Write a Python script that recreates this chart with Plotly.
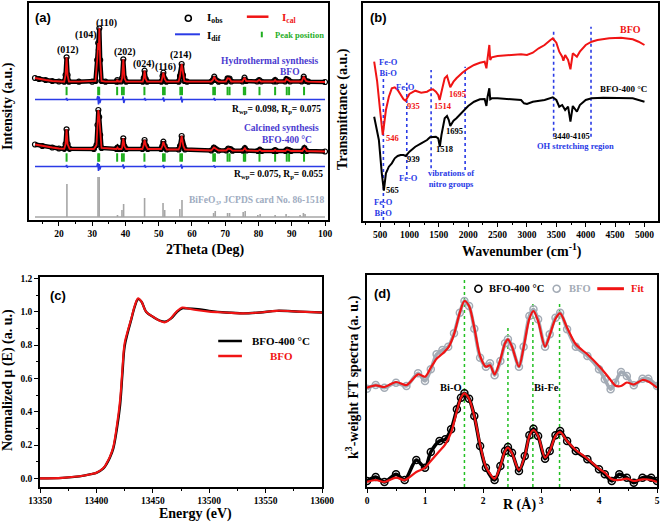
import plotly.graph_objects as go

# ---------------- (a) XRD Rietveld ----------------
TOP_2THETA = [12.8, 14, 16, 18, 20,
              21.6, 22.0, 22.3, 22.6, 23.0,
              26, 30, 31.0, 31.5, 31.8,
              32.0, 32.15, 32.4, 32.8, 34,
              37.3, 37.55, 37.8, 38.7, 39.0,
              39.35, 39.7, 40.2, 45.2, 45.5,
              45.75, 46.1, 46.5, 50.8, 51.15,
              51.4, 51.8, 52.3, 56.0, 56.4,
              56.9, 57.3, 57.7, 58.5, 65.8,
              66.3, 66.7, 67.2, 68.0, 70.2,
              70.7, 71.3, 71.8, 75.2, 75.8,
              76.3, 79.6, 80.2, 80.8, 84.6,
              85.0, 85.4, 88.0, 88.4, 89.0,
              89.5, 93.0, 93.6, 94.3, 95,
              100]
TOP_INT = [142, 141, 140, 139, 138.5,
           138.3, 145, 162.7, 145, 138.3,
           138.3, 138.3, 139, 160, 177,
           170, 191.7, 160, 139, 138.3,
           138.3, 140, 138.5, 138.5, 142,
           160.7, 142, 138.3, 138.3, 142,
           149.3, 141, 138.3, 138.3, 144,
           147.3, 141, 138.3, 138.3, 144,
           156, 145, 139, 138.3, 138.3,
           140, 143.3, 140, 138.3, 138.3,
           141.7, 141.5, 138.5, 138.5, 142.3,
           139, 138.5, 140, 138.5, 138.5,
           140, 138.5, 138.5, 141, 140,
           138.5, 138.5, 143.3, 139, 138.3,
           138]

BOT_2THETA = [12.8, 15, 18, 20, 21.6,
              22.0, 22.3, 22.6, 23.2, 30.5,
              31.3, 31.6, 31.85, 32.1, 32.4,
              32.8, 37.3, 37.6, 37.9, 38.8,
              39.0, 39.35, 39.7, 40.2, 45.1,
              45.5, 45.75, 46.2, 46.7, 50.7,
              51.1, 51.4, 51.8, 52.4, 56.0,
              56.4, 56.9, 57.4, 57.9, 65.8,
              66.6, 67.2, 68.0, 70.3, 70.9,
              71.6, 72.2, 75.3, 75.9, 76.4,
              79.8, 80.4, 81.0, 84.6, 85.0,
              85.4, 88.1, 88.6, 89.2, 89.8,
              93.2, 93.8, 94.5, 100]
BOT_INT = [75.5, 74, 72.5, 71.5, 71.2,
           76, 90.7, 76, 71.2, 71,
           75, 95, 110, 103, 85,
           72, 71, 72.5, 71, 71,
           72.5, 81.7, 73.5, 71, 71,
           75, 80, 74, 71, 71,
           74, 78.3, 74, 70.5, 70.5,
           74, 84, 74, 70.5, 69.5,
           72.5, 71, 69.5, 69.5, 71.5,
           71, 69.3, 69.3, 71.8, 69.5,
           69, 70.3, 69, 69, 70,
           69, 69, 70.5, 69.8, 69,
           69, 72, 69, 68.5]

DIF_2THETA = [12.8, 22.1, 22.3, 22.5, 22.7, 31.4, 31.7, 31.9, 32.1, 32.3, 32.6,
              39.1, 39.3, 39.5, 39.8, 45.6, 45.8, 46.0, 46.2, 51.2, 51.4, 51.6,
              51.8, 56.6, 56.8, 57.0, 57.2, 66.5, 66.7, 66.9, 67.1, 100]
TOP_DIF = [120.5, 120.5, 122, 119.5, 120.5, 120.5, 124, 115.5, 123.5, 117, 120.5,
           120.5, 123.5, 117, 120.5, 120.5, 122, 119.5, 120.5, 120.5, 122.5, 118.5,
           120.5, 120.5, 123.5, 117.5, 120.5, 120.5, 122, 119.5, 120.5, 120.5]
BOT_DIF = [53.5, 53.5, 55, 52.5, 53.5, 53.5, 57, 49, 56, 50.5, 53.5,
           53.5, 55.5, 51.5, 53.5, 53.5, 55, 52.5, 53.5, 53.5, 55, 52,
           53.5, 53.5, 55.5, 51.5, 53.5, 53.5, 54.5, 52.5, 53.5, 53.5]

PEAK_POS = [22.3, 31.8, 32.1, 37.5, 38.95, 39.5, 45.7, 51.3, 51.8, 56.5, 57.0,
            66.4, 66.9, 70.7, 71.3, 75.6, 76.0, 80.3, 85.0, 88.5, 89.2, 93.7]
TOP_TICK_LEVEL = 129
BOT_TICK_LEVEL = 62.5

REF_POS = [22.4, 31.75, 32.1, 37.6, 38.95, 39.45, 45.75, 51.3, 51.8, 56.35, 57.0,
           66.5, 67.0, 70.7, 71.3, 75.4, 76.0, 79.8, 80.5, 85.0, 88.3, 89.1,
           92.5, 93.5, 94.0]
REF_INT = [36, 43, 43, 5, 10, 16, 22, 17, 10, 11, 20,
           7, 9, 7, 7, 8, 9, 5, 6, 5, 6, 4,
           5, 7, 6]
REF_BASE = 3

# ---------------- (b) FTIR ----------------
WN_BFO = [400, 450, 500, 546, 600, 650, 700, 750, 800, 850, 900, 935, 1000, 1100,
          1200, 1300, 1350, 1400, 1450, 1490, 1514, 1540, 1600, 1640, 1670, 1695,
          1750, 1800, 1900, 2000, 2100, 2200, 2280, 2310, 2330, 2345, 2360, 2375,
          2400, 2500, 2700, 2900, 3000, 3100, 3200, 3300, 3400, 3440, 3500, 3550,
          3600, 3620, 3650, 3700, 3740, 3780, 3850, 3900, 4000, 4100, 4200, 4400,
          4600, 4700, 4800, 4900, 5000]
T_BFO = [159.3, 140, 111, 86, 111, 124.3, 132.7, 133.7, 131, 126, 121.7, 120.3, 127, 130.3,
         128.3, 129.3, 131, 131.7, 129.3, 126, 121, 127.7, 142.7, 145, 139.3, 133.7,
         139.3, 142.7, 148.3, 152.7, 156, 158.3, 159.3, 152.7, 162.7, 171, 176, 161,
         163.7, 165, 166, 166.7, 166, 168.3, 172.7, 176, 181, 182.7, 178.3, 169.3,
         164.3, 160.3, 166, 161, 151.7, 167.7, 164.3, 169.3, 176, 179.3, 181, 182.7,
         183.3, 182.3, 181.7, 179.3, 176]

WN_400 = [400, 480, 530, 565, 600, 650, 700, 750, 800, 850, 900, 939, 1000, 1100,
          1200, 1300, 1350, 1400, 1450, 1490, 1518, 1545, 1600, 1640, 1670, 1695,
          1750, 1800, 1900, 2000, 2100, 2200, 2280, 2310, 2330, 2345, 2360, 2375,
          2400, 2500, 2700, 2900, 2950, 3000, 3100, 3200, 3300, 3440, 3500, 3550,
          3600, 3650, 3700, 3740, 3780, 3850, 3900, 4000, 4100, 4300, 4600, 4800, 5000]
T_400 = [104.3, 81, 47.7, 30.3, 47.7, 54.3, 57.7, 62.7, 65, 66, 66, 65, 69.3, 74.3,
         77.7, 81, 83.7, 83.7, 84.3, 82.7, 74.3, 86, 102.7, 105, 101, 95,
         100.3, 102.7, 109.3, 115, 119.3, 121.7, 122, 115, 124.3, 127.7, 132.7, 121.7,
         122.7, 122.7, 122, 121, 117.7, 117, 119.3, 120, 121, 123.7, 121, 114.3,
         116, 111, 114.3, 99.3, 115, 109.3, 116, 121, 122.7, 123.3, 123.3, 122.7, 119.3]

FTIR_GUIDE_WN = [557, 955, 1369, 1948, 3454, 4090]
FTIR_GUIDE_LO = [1, 46, 52.7, 51, 84.3, 84.3]
FTIR_GUIDE_HI = [142.7, 138.3, 151, 154.3, 191, 194.3]

# ---------------- (c) XANES ----------------
E_EV = [13350, 13370, 13385, 13395, 13400, 13406, 13409, 13412, 13415, 13418, 13421,
        13423, 13425, 13428, 13431, 13434, 13437, 13440, 13444, 13450, 13456, 13461,
        13466, 13471, 13476, 13480, 13490, 13500, 13515, 13530, 13545, 13560, 13580, 13600]
MU_400 = [0.0, 0.003, 0.012, 0.025, 0.033, 0.058, 0.086, 0.125, 0.18, 0.29, 0.44,
          0.62, 0.79, 0.88, 0.955, 1.03, 1.075, 1.06, 1.0, 0.97, 0.947, 0.94,
          0.958, 0.995, 1.02, 1.02, 1.015, 1.005, 0.995, 0.99, 0.995, 1.005, 1.0, 0.995]
MU_BFO = [0.0, 0.003, 0.012, 0.025, 0.034, 0.06, 0.09, 0.13, 0.19, 0.31, 0.47,
          0.65, 0.81, 0.89, 0.96, 1.036, 1.08, 1.06, 1.0, 0.97, 0.945, 0.936,
          0.96, 1.0, 1.025, 1.02, 1.008, 1.0, 0.995, 0.99, 0.995, 1.005, 1.0, 0.995]

# ---------------- (d) EXAFS FT ----------------
R_UP = [0, 0.15, 0.3, 0.5, 0.68, 0.88, 1.0, 1.1, 1.2, 1.3, 1.4, 1.5, 1.6, 1.68, 1.76,
        1.85, 1.95, 2.05, 2.12, 2.2, 2.3, 2.38, 2.43, 2.5, 2.62, 2.7, 2.8, 2.87, 2.95,
        3.07, 3.15, 3.25, 3.33, 3.45, 3.6, 3.8, 4.0, 4.1, 4.2, 4.28, 4.38, 4.48, 4.6,
        4.75, 4.85, 5.0]
FT_BFO = [98.3, 102, 99.3, 104.3, 101, 113.7, 106, 117.7, 132.7, 137, 140.3, 153.7, 174.3,
          186, 181, 158.3, 129.3, 120.3, 123.7, 111.7, 126, 143.7, 147.7, 140.3, 120.3,
          140.3, 171, 177.7, 167.7, 140.3, 152.7, 169.3, 174.3, 157.7, 140.3, 131, 117.7,
          107.7, 97.7, 104.3, 115, 111, 101.7, 108.3, 108.3, 101]
FIT_BFO = [99.3, 101.7, 100, 105, 102, 112.7, 110.3, 119.3, 128.3, 133.3, 139.3, 152.7, 174.3,
           186, 181, 159.3, 131, 120.3, 121.7, 112.7, 127.7, 143.7, 147.7, 140.3, 120.3,
           139.3, 168.3, 176, 166, 140.3, 151.7, 168.3, 173.7, 159.3, 142.7, 132.7, 121,
           114.3, 107, 101.5, 101, 104.5, 102.5, 107, 105.5, 99.3]
R_LOW = [0, 0.15, 0.3, 0.5, 0.65, 0.85, 1.0, 1.1, 1.25, 1.35, 1.45, 1.55, 1.62, 1.68, 1.76,
         1.85, 1.95, 2.05, 2.2, 2.3, 2.38, 2.43, 2.5, 2.62, 2.72, 2.8, 2.87, 2.95, 3.07,
         3.15, 3.25, 3.33, 3.45, 3.6, 3.8, 4.0, 4.1, 4.22, 4.35, 4.48, 4.6, 4.75, 4.9, 5.0]
FT_400 = [6, 10, 5, 12.7, 7, 27, 19.3, 35, 46, 47.7, 57.7, 77.7, 89.3, 93.7, 88.3,
          71, 41, 19.3, 7, 21, 36, 40, 34.3, 16, 31, 51.7, 58.3, 51, 28.3,
          36, 51.7, 56, 46, 36, 27.7, 17.7, 12.7, 6, 12.7, 9.3, 4.3, 9.3, 9.3, 6]
FIT_400 = [5, 7, 5, 9.3, 7, 15, 19.3, 26, 36, 42.7, 54.3, 76, 89.3, 93.7, 88.3,
           71, 42.7, 20.3, 8.3, 21, 36, 39.3, 33.7, 17, 31, 51, 57, 51, 29.3,
           36, 51, 55, 46, 37, 28.3, 18.3, 14.3, 7.7, 7, 8.3, 6, 7.7, 7, 5]
EXAFS_GUIDE_R = [1.68, 2.43, 2.86, 3.32]
EXAFS_GUIDE_HI = [209.3, 159, 186, 186]

# ---------------- styling ----------------
SERIF = "Liberation Serif"
SANS = "Liberation Sans"
W, H = 661, 522
RED = "#f01414"
BLUE = "#2a3be6"
GREEN = "#1fae1f"
PURPLE = "#4a3ad0"
GREY = "#a6a6a6"
GREY_D = "#a3abb5"


def fx(p):
    return p / W


def fy(p):
    return 1 - p / H


fig = go.Figure()


def seg(xs, lo, hi):
    sx, sy = [], []
    for x, a, b in zip(xs, lo, hi):
        sx += [x, x, None]
        sy += [a, b, None]
    return sx, sy


# (a)
sx, sy = seg(REF_POS, [REF_BASE] * len(REF_POS), REF_INT)
fig.add_trace(go.Scatter(x=sx, y=sy, mode="lines", line=dict(color=GREY, width=1.6),
                         xaxis="x", yaxis="y"))
fig.add_trace(go.Scatter(x=[TOP_2THETA[0], TOP_2THETA[-1]], y=[REF_BASE, REF_BASE], mode="lines",
                         line=dict(color=GREY, width=1.6), xaxis="x", yaxis="y"))
for dif in (TOP_DIF, BOT_DIF):
    fig.add_trace(go.Scatter(x=DIF_2THETA, y=dif, mode="lines", line=dict(color=BLUE, width=1.6),
                             xaxis="x", yaxis="y"))
for lvl in (TOP_TICK_LEVEL, BOT_TICK_LEVEL):
    fig.add_trace(go.Scatter(x=PEAK_POS, y=[lvl] * len(PEAK_POS), mode="markers",
                             marker=dict(symbol="line-ns", size=6, line=dict(color=GREEN, width=2)),
                             xaxis="x", yaxis="y"))
for xs, ys in ((TOP_2THETA, TOP_INT), (BOT_2THETA, BOT_INT)):
    fig.add_trace(go.Scatter(x=xs, y=ys, mode="lines+markers", line=dict(color="black", width=4.5),
                             marker=dict(symbol="circle-open", size=5, color="black",
                                         line=dict(width=1.2)),
                             xaxis="x", yaxis="y"))
    fig.add_trace(go.Scatter(x=xs, y=ys, mode="lines", line=dict(color=RED, width=1.8),
                             xaxis="x", yaxis="y"))

# (b)
sx, sy = seg(FTIR_GUIDE_WN, FTIR_GUIDE_LO, FTIR_GUIDE_HI)
fig.add_trace(go.Scatter(x=sx, y=sy, mode="lines", line=dict(color=BLUE, width=1.6, dash="dot"),
                         xaxis="x2", yaxis="y2"))
fig.add_trace(go.Scatter(x=WN_BFO, y=T_BFO, mode="lines", line=dict(color=RED, width=2),
                         xaxis="x2", yaxis="y2"))
fig.add_trace(go.Scatter(x=WN_400, y=T_400, mode="lines", line=dict(color="black", width=2),
                         xaxis="x2", yaxis="y2"))

# (c)
fig.add_trace(go.Scatter(x=E_EV, y=MU_400, mode="lines", line=dict(color="black", width=2.4, shape="spline"),
                         xaxis="x3", yaxis="y3"))
fig.add_trace(go.Scatter(x=E_EV, y=MU_BFO, mode="lines", line=dict(color=RED, width=2.1, shape="spline"),
                         xaxis="x3", yaxis="y3"))

# (d)
sx, sy = seg(EXAFS_GUIDE_R, [0] * len(EXAFS_GUIDE_R), EXAFS_GUIDE_HI)
fig.add_trace(go.Scatter(x=sx, y=sy, mode="lines", line=dict(color="#22c022", width=1.5, dash="dot"),
                         xaxis="x4", yaxis="y4"))
for xs, ys, col in ((R_UP, FT_BFO, GREY_D), (R_LOW, FT_400, "black")):
    fig.add_trace(go.Scatter(x=xs, y=ys, mode="lines+markers",
                             line=dict(color=col, width=3.5, shape="spline", smoothing=0.8),
                             marker=dict(symbol="circle-open", size=7, color=col, line=dict(width=1.5)),
                             xaxis="x4", yaxis="y4"))
for xs, ys in ((R_UP, FIT_BFO), (R_LOW, FIT_400)):
    fig.add_trace(go.Scatter(x=xs, y=ys, mode="lines",
                             line=dict(color=RED, width=2.2, shape="spline", smoothing=0.8),
                             xaxis="x4", yaxis="y4"))

# ---------------- axes ----------------
TICKFONT = dict(family=SERIF, size=9.5, color="black", weight="bold")


def ax(**kw):
    d = dict(showline=True, linecolor="black", linewidth=1.5, mirror=True, showgrid=False,
             zeroline=False, ticks="outside", ticklen=4, tickwidth=1.2, tickcolor="black",
             tickfont=TICKFONT, automargin=False)
    d.update(kw)
    return d


def minor(dt):
    return dict(dtick=dt, ticks="outside", ticklen=2.5, tickwidth=1, tickcolor="black", showgrid=False)


NOY = dict(ticks="", showticklabels=False)

fig.update_layout(
    width=W, height=H, margin=dict(l=0, r=0, t=0, b=0, pad=0), autosize=False,
    paper_bgcolor="white", plot_bgcolor="white", showlegend=False,
    xaxis=ax(domain=[fx(29), fx(328)], range=[11, 100.9], anchor="y", tick0=20, dtick=10, minor=minor(5)),
    yaxis=ax(domain=[fy(220), fy(3)], range=[0, 217], anchor="x", **NOY),
    xaxis2=ax(domain=[fx(363), fx(658)], range=[210, 5230], anchor="y2", tick0=500, dtick=500, minor=minor(250)),
    yaxis2=ax(domain=[fy(221), fy(3)], range=[0, 218], anchor="x2", **NOY),
    xaxis3=ax(domain=[fx(40), fx(322)], range=[13350, 13600], anchor="y3", tick0=13350, dtick=50,
              tickformat="d", minor=minor(25)),
    yaxis3=ax(domain=[fy(487), fy(277)], range=[-0.052, 1.208], anchor="x3", tick0=0, dtick=0.2,
              tickformat=".1f", minor=minor(0.1)),
    xaxis4=ax(domain=[fx(367), fx(657)], range=[0, 5], anchor="y4", tick0=0, dtick=1, tickformat="d",
              minor=minor(0.5)),
    yaxis4=ax(domain=[fy(487), fy(275)], range=[0, 212], anchor="x4", **NOY),
)

# ---------------- text ----------------
ANN = []


def note(text, x, y, ref=("x", "y"), size=10, color="black", xa="center", ya="middle",
         family=SERIF, angle=0, bold=True):
    ANN.append(dict(text=text, x=x, y=y, xref=ref[0], yref=ref[1], showarrow=False,
                    xanchor=xa, yanchor=ya, textangle=angle,
                    font=dict(family=family, size=size, color=color,
                              weight="bold" if bold else "normal")))


def pnote(text, px, py, **kw):
    note(text, fx(px), fy(py), ref=("paper", "paper"), **kw)


# axis titles
pnote("2Theta (Deg)", 205, 250, size=14)
pnote("Intensity (a.u.)", 8, 106, size=14, angle=-90)
pnote("Wavenumber (cm<sup>-1</sup>)", 522, 250, size=14)
pnote("Transmittance (a.u.)", 343, 109, size=14, angle=-90)
pnote("Energy (eV)", 195, 514, size=14)
pnote("Normalized μ (E) (a. u.)", 8, 380, size=14, angle=-90)
pnote("R (Å)", 519, 505, size=14)
pnote("k<sup>3</sup>-weight FT spectra (a. u.)", 352, 377, size=14, angle=-90)

# panel letters
pnote("(a)", 43, 17, size=13, family=SANS)
pnote("(b)", 378, 17, size=13, family=SANS)
pnote("(c)", 58, 295, size=13, family=SANS)
pnote("(d)", 382, 293, size=13, family=SANS)

# (a) labels
for t, x, y in (("(012)", 22.6, 170), ("(104)", 28.2, 185), ("(110)", 34.3, 196.7),
                ("(202)", 39.85, 168.3), ("(024)", 45.7, 156), ("(116)", 52.1, 152.7),
                ("(214)", 56.7, 165)):
    note(t, x, y, size=10)
note("Hydrothermal synthesis", 83.5, 159, size=9.5, color=PURPLE)
note("BFO", 89.5, 148.3, size=9.5, color=PURPLE)
note("R<sub>wp</sub>= 0.098, R<sub>p</sub>= 0.075", 85.5, 110.7, size=9.5)
note("Calcined synthesis", 86.9, 91.7, size=9.5, color=PURPLE)
note("BFO-400 °C", 88.5, 80, size=9.5, color=PURPLE)
note("R<sub>wp</sub>= 0.075, R<sub>p</sub>= 0.055", 85.9, 46, size=9.5)
note("BiFeO<sub>3</sub>, JCPDS card No. 86-1518", 79.7, 20, size=9.5, color="#9eabc0")
# (a) legend
note("I<sub>obs</sub>", 63.9, 201.7, size=11, xa="left")
note("I<sub>cal</sub>", 86.5, 201.7, size=11, xa="left", color=RED)
note("I<sub>dif</sub>", 63.9, 184.5, size=11, xa="left")
note("Peak position", 84.5, 185, size=8.5, xa="left", color=GREEN)

# (b) labels
B = ("x2", "y2")
note("Fe-O<br>Bi-O", 642, 154, B, size=8.5, color=BLUE)
note("546", 710, 82.7, B, size=8.5, color=RED)
note("Fe-O", 926, 133.7, B, size=8.5, color=BLUE)
note("935", 1068, 115, B, size=8.5, color=RED)
note("1514", 1579, 115, B, size=8.5, color=RED)
note("1695", 1818, 127, B, size=8.5, color=RED)
note("BFO", 4760, 191.7, B, size=10, color=RED)
note("BFO-400 °C", 4646, 131.7, B, size=9)
note("939", 1068, 61.7, B, size=8.5)
note("Fe-O", 983, 43.3, B, size=8.5, color=BLUE)
note("1695", 1761, 90.3, B, size=8.5)
note("1518", 1591, 71.7, B, size=8.5)
note("vibrations of<br>nitro groups", 1704, 43, B, size=8.5, color=BLUE)
note("565", 720, 31, B, size=8.5)
note("Fe-O<br>Bi-O", 557, 14, B, size=8.5, color=BLUE)
note("3440-4105", 3766, 85, B, size=8.5)
note("OH stretching region", 3823, 75.3, B, size=8.5, color=BLUE)

# (c) legend
C = ("x3", "y3")
note("BFO-400 °C", 13564, 0.824, C, size=11)
note("BFO", 13564, 0.734, C, size=11, color=RED)

# (d) labels
D = ("x4", "y4")
note("Bi-O", 1.44, 99.3, D, size=10.5)
note("Bi-Fe", 3.1, 99.3, D, size=10.5)
note("BFO-400 °C", 2.58, 198.3, D, size=10.5)
note("BFO", 3.67, 198.3, D, size=10.5, color=GREY_D)
note("Fit", 4.67, 198.3, D, size=10.5, color=RED)

fig.update_layout(annotations=ANN)

# legend glyphs (layout shapes)
SH = []


def circle(ref, x, y, col, r=3):
    SH.append(dict(type="circle", xref=ref[0], yref=ref[1], xsizemode="pixel", ysizemode="pixel",
                   xanchor=x, yanchor=y, x0=-r, x1=r, y0=-r, y1=r, line=dict(color=col, width=1.6)))


def hline(ref, x0, x1, y, col, w=2.2):
    SH.append(dict(type="line", xref=ref[0], yref=ref[1], x0=x0, x1=x1, y0=y, y1=y,
                   line=dict(color=col, width=w)))


circle(("x", "y"), 58.9, 201.7, "black")
hline(("x", "y"), 76.5, 83, 203.3, RED, 2.5)
hline(("x", "y"), 54.9, 62.4, 185.7, BLUE, 2)
SH.append(dict(type="line", xref="x", yref="y", x0=81, x1=81, y0=182.7, y1=188.3,
               line=dict(color=GREEN, width=2)))
hline(C, 13508, 13529, 0.824, "black", 2.5)
hline(C, 13508, 13529, 0.734, RED, 2.5)
circle(D, 1.92, 198.3, "black", 3.5)
circle(D, 3.27, 198.3, GREY_D, 3.5)
hline(D, 3.97, 4.43, 198.3, RED, 3)
fig.update_layout(shapes=SH)

fig.write_html("out.html", config={"displayModeBar": False},
               post_script="document.body.style.margin='0px';document.body.style.overflow='hidden';")
